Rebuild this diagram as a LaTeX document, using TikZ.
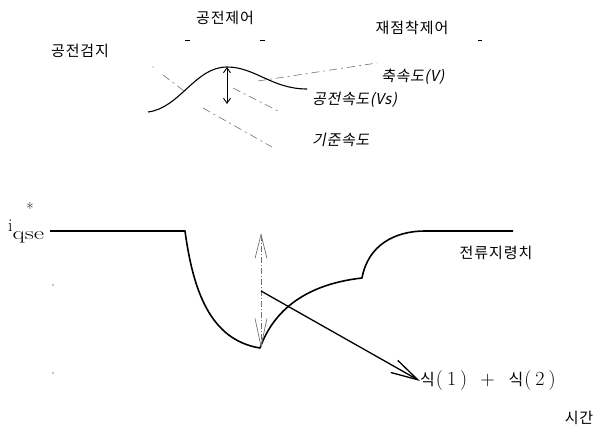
\documentclass[tikz,border=0pt]{standalone}
\usepackage{fontspec}
\usetikzlibrary{arrows.meta}
\newfontfamily\kr[LetterSpace=6]{Noto Sans CJK KR}
\newfontfamily\krit[FakeSlant=0.2,LetterSpace=4]{Noto Sans CJK KR}
\newfontfamily\krp{Noto Sans CJK KR}
\newcommand\sik{{\krp\fontsize{16}{16}\selectfont 식}}
\tikzset{
  lbl/.style={font=\kr\fontsize{15}{15}\selectfont, inner sep=0pt},
  itl/.style={font=\krit\fontsize{15}{15}\selectfont, inner sep=0pt},
  curve/.style={line width=1.6pt, line join=round},
  bump/.style={line width=1.1pt},
  leader/.style={black!55, line width=0.6pt, dash pattern=on 8pt off 4pt on 2pt off 4pt},
  tickmark/.style={line width=0.8pt}
}
\begin{document}
\begin{tikzpicture}[x=1pt,y=-1pt]
\useasboundingbox (0,0) rectangle (600,435);
% top labels
\node[lbl] (t1) at (225,18) {공전제어};
\node[lbl] (t2) at (412,28) {재점착제어};
\node[lbl] (t3) at (80,51) {공전검지};
\draw[tickmark] (185,40) -- (190,40);
\draw[tickmark] (260,40) -- (265,40);
\draw[tickmark] (478,40) -- (482,40);
% bump
\draw[bump] (148,112) .. controls (180,108) and (195,67) .. (227,67) .. controls (255,67) and (272,89) .. (307,89);
\coordinate (pk) at (227,67);
\coordinate (pb) at (227,104);
\draw[line width=0.9pt, {Straight Barb[length=5pt,width=7pt]}-{Straight Barb[length=5pt,width=7pt]}] (pk) -- (pb);
% leaders and labels
\node[itl, anchor=west] (v) at (381,77) {축속도(V)};
\coordinate (v0) at (258,81);
\coordinate (v1) at (377,63);
\draw[leader] (v0) -- (v1);
\node[itl, anchor=west] (vs) at (312,100) {공전속도(Vs)};
\coordinate (s0) at (233,88);
\coordinate (s1) at (280,112);
\draw[leader] (s0) -- (s1);
\node[itl, anchor=west] (vr) at (312,140) {기준속도};
\coordinate (r0) at (203,108);
\coordinate (r1) at (272,147);
\draw[leader] (r0) -- (r1);
\coordinate (l0) at (163,75);
\coordinate (l1) at (184,91);
\draw[leader] (l0) -- (l1);
\fill[black!50] (153,67) circle (0.6pt);
% bottom
\node[font=\fontsize{18}{18}\selectfont, inner sep=0pt, anchor=base west] (iq) at (8,232) {i\raisebox{-8pt}{\scalebox{1.4}[1]{qse}}};
\node[font=\fontsize{16}{16}\selectfont, inner sep=0pt] (st) at (30,209) {*};
\coordinate (c0) at (50,231);
\draw[curve] (c0) -- (185,231) .. controls (193,290) and (210,340) .. (260,348)
  .. controls (272,315) and (300,285) .. (362,278)
  .. controls (368,245) and (395,231) .. (425,231) -- (513,231);
\node[lbl] (cmd) at (496,253) {전류지령치};
\coordinate (d1) at (261,233);
\coordinate (d2) at (261,348);
\draw[black!55, line width=0.7pt, dash pattern=on 6pt off 2pt on 1pt off 2pt,
  {Straight Barb[length=24pt,width=12pt]}-{Straight Barb[length=28pt,width=12pt]}] (d1) -- (d2);
\node[font=\fontsize{20}{20}\selectfont, inner sep=0pt, anchor=west] (eq) at (420,381)
  {\sik\kern1pt(\kern4pt1\kern4pt)\hspace{13pt}+\hspace{14pt}\sik\kern1pt(\kern4pt2\kern4pt)};
\coordinate (a0) at (261,291);
\draw[line width=1.3pt, -{Straight Barb[length=27pt,width=14pt]}] (a0) -- (eq.west);
\node[lbl] (tm) at (579,418) {시간};
\fill (53,285) circle (0.6pt);
\fill (53,373) circle (0.6pt);
\end{tikzpicture}
\end{document}
